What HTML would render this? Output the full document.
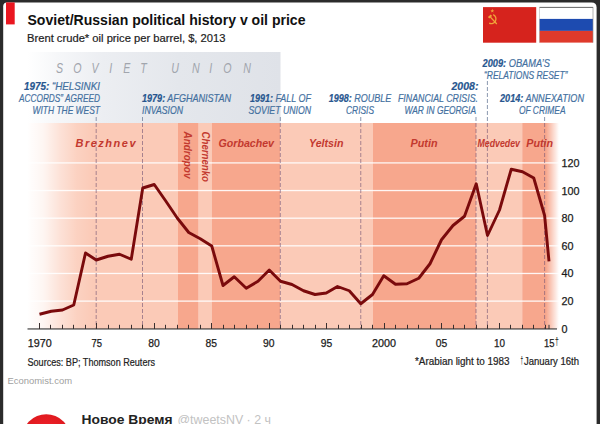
<!DOCTYPE html>
<html><head><meta charset="utf-8"><title>chart</title>
<style>
html,body{margin:0;padding:0;background:#2b2b2b;}
body{width:600px;height:424px;overflow:hidden;font-family:"Liberation Sans",sans-serif;}
svg{display:block}
text{font-family:"Liberation Sans",sans-serif;}
.ann{font-size:10.5px;font-style:italic;fill:#43709f;stroke:#43709f;stroke-width:0.2px;}
.ann .b{font-weight:bold;fill:#27568f;stroke:#27568f;}
.ldr{font-size:11px;font-style:italic;font-weight:bold;fill:#c3392f;}
.ax{font-size:11px;fill:#1a1a1a;stroke:#1a1a1a;stroke-width:0.25px;}
.src{font-size:10px;fill:#222;stroke:#222;stroke-width:0.2px;}
</style></head><body>
<svg width="600" height="424" viewBox="0 0 600 424">
<defs>
<linearGradient id="fl" x1="0" x2="1" y1="0" y2="0"><stop offset="0" stop-color="#fff" stop-opacity="1"/><stop offset="0.25" stop-color="#fff" stop-opacity="0.82"/><stop offset="0.5" stop-color="#fff" stop-opacity="0.45"/><stop offset="0.75" stop-color="#fff" stop-opacity="0.15"/><stop offset="1" stop-color="#fff" stop-opacity="0"/></linearGradient>
<linearGradient id="fr" x1="0" x2="1" y1="0" y2="0"><stop offset="0" stop-color="#fff" stop-opacity="0"/><stop offset="1" stop-color="#fff" stop-opacity="1"/></linearGradient>
<linearGradient id="gg" x1="0" x2="1" y1="0" y2="0"><stop offset="0" stop-color="#ffffff"/><stop offset="0.12" stop-color="#f6f7f9"/><stop offset="0.3" stop-color="#eceef2"/><stop offset="0.6" stop-color="#e4e7ec"/><stop offset="1" stop-color="#dfe2e8"/></linearGradient>
<radialGradient id="av" cx="0.5" cy="0.4" r="0.6"><stop offset="0" stop-color="#f2222b"/><stop offset="0.7" stop-color="#e01a20"/><stop offset="1" stop-color="#b80f15"/></radialGradient>
</defs>
<rect x="0" y="0" width="600" height="424" fill="#2b2b2b"/>
<path d="M3.2,424 V6.4 Q3.2,2.4 7,2.4 H591.5 Q596.6,2.4 596.6,7.4 V424 Z" fill="#fff"/>
<rect x="6" y="2.4" width="8.7" height="22" fill="#ea1620"/>

<text x="27.5" y="24.5" font-size="15" font-weight="bold" fill="#111" textLength="278" lengthAdjust="spacingAndGlyphs">Soviet/Russian political history v oil price</text>
<text x="27" y="42" font-size="11" fill="#222" stroke="#222" stroke-width="0.2" textLength="198.5" lengthAdjust="spacingAndGlyphs">Brent crude* oil price per barrel, $, 2013</text>
<rect x="27" y="52" width="253.5" height="71" fill="url(#gg)"/>
<text transform="translate(56,72.5) scale(0.76,1)" font-size="14" font-style="italic" fill="#a1a5ad">S</text>
<text transform="translate(73.3,72.5) scale(0.76,1)" font-size="14" font-style="italic" fill="#a1a5ad">O</text>
<text transform="translate(91.5,72.5) scale(0.76,1)" font-size="14" font-style="italic" fill="#a1a5ad">V</text>
<text transform="translate(109.3,72.5) scale(0.76,1)" font-size="14" font-style="italic" fill="#a1a5ad">I</text>
<text transform="translate(123.3,72.5) scale(0.76,1)" font-size="14" font-style="italic" fill="#a1a5ad">E</text>
<text transform="translate(140.3,72.5) scale(0.76,1)" font-size="14" font-style="italic" fill="#a1a5ad">T</text>
<text transform="translate(171.3,72.5) scale(0.76,1)" font-size="14" font-style="italic" fill="#a1a5ad">U</text>
<text transform="translate(192,72.5) scale(0.76,1)" font-size="14" font-style="italic" fill="#a1a5ad">N</text>
<text transform="translate(209.3,72.5) scale(0.76,1)" font-size="14" font-style="italic" fill="#a1a5ad">I</text>
<text transform="translate(223.3,72.5) scale(0.76,1)" font-size="14" font-style="italic" fill="#a1a5ad">O</text>
<text transform="translate(243.3,72.5) scale(0.76,1)" font-size="14" font-style="italic" fill="#a1a5ad">N</text>
<rect x="27" y="123" width="151" height="206" fill="#fbcab7"/>
<rect x="178" y="123" width="20.69999999999999" height="206" fill="#f7a78d"/>
<rect x="198.7" y="123" width="12.900000000000006" height="206" fill="#fbcab7"/>
<rect x="211.6" y="123" width="68.9" height="206" fill="#f7a78d"/>
<rect x="280.5" y="123" width="92.5" height="206" fill="#fbcab7"/>
<rect x="373" y="123" width="103" height="206" fill="#f7a78d"/>
<rect x="476" y="123" width="46.200000000000045" height="206" fill="#fbcab7"/>
<rect x="522.2" y="123" width="37.799999999999955" height="206" fill="#f7a78d"/>
<rect x="27" y="300.46" width="533" height="1.3" fill="#fff" opacity="0.9"/>
<rect x="27" y="272.82" width="533" height="1.3" fill="#fff" opacity="0.9"/>
<rect x="27" y="245.18" width="533" height="1.3" fill="#fff" opacity="0.9"/>
<rect x="27" y="217.54" width="533" height="1.3" fill="#fff" opacity="0.9"/>
<rect x="27" y="189.90" width="533" height="1.3" fill="#fff" opacity="0.9"/>
<rect x="27" y="162.26" width="533" height="1.3" fill="#fff" opacity="0.9"/>
<rect x="27" y="123" width="66" height="206" fill="url(#fl)"/>
<rect x="546" y="123" width="13" height="206" fill="url(#fr)"/>
<rect x="559" y="123" width="3" height="206" fill="#fff"/>
<line x1="96.2" y1="117" x2="96.2" y2="123" stroke="#7f8fa8" stroke-width="1" stroke-dasharray="4,2" opacity="0.9"/>
<line x1="96.2" y1="123" x2="96.2" y2="329" stroke="#7a5a78" stroke-width="0.9" stroke-dasharray="4,2" opacity="0.72"/>
<line x1="142.5" y1="117" x2="142.5" y2="123" stroke="#7f8fa8" stroke-width="1" stroke-dasharray="4,2" opacity="0.9"/>
<line x1="142.5" y1="123" x2="142.5" y2="329" stroke="#7a5a78" stroke-width="0.9" stroke-dasharray="4,2" opacity="0.72"/>
<line x1="280.3" y1="117" x2="280.3" y2="123" stroke="#7f8fa8" stroke-width="1" stroke-dasharray="4,2" opacity="0.9"/>
<line x1="280.3" y1="123" x2="280.3" y2="329" stroke="#7a5a78" stroke-width="0.9" stroke-dasharray="4,2" opacity="0.72"/>
<line x1="360.75" y1="117" x2="360.75" y2="123" stroke="#7f8fa8" stroke-width="1" stroke-dasharray="4,2" opacity="0.9"/>
<line x1="360.75" y1="123" x2="360.75" y2="329" stroke="#7a5a78" stroke-width="0.9" stroke-dasharray="4,2" opacity="0.72"/>
<line x1="476" y1="117" x2="476" y2="123" stroke="#7f8fa8" stroke-width="1" stroke-dasharray="4,2" opacity="0.9"/>
<line x1="476" y1="123" x2="476" y2="329" stroke="#7a5a78" stroke-width="0.9" stroke-dasharray="4,2" opacity="0.72"/>
<line x1="487.4" y1="81" x2="487.4" y2="123" stroke="#7f8fa8" stroke-width="1" stroke-dasharray="4,2" opacity="0.9"/>
<line x1="487.4" y1="123" x2="487.4" y2="329" stroke="#7a5a78" stroke-width="0.9" stroke-dasharray="4,2" opacity="0.72"/>
<line x1="544.6" y1="117" x2="544.6" y2="123" stroke="#7f8fa8" stroke-width="1" stroke-dasharray="4,2" opacity="0.9"/>
<line x1="544.6" y1="123" x2="544.6" y2="329" stroke="#7a5a78" stroke-width="0.9" stroke-dasharray="4,2" opacity="0.72"/>
<rect x="27.5" y="328.4" width="529.5" height="1.1" fill="#333"/>
<rect x="39" y="323" width="1" height="6" fill="#3a3030"/>
<rect x="50" y="324.8" width="1" height="4.2" fill="#3a3030"/>
<rect x="62" y="324.8" width="1" height="4.2" fill="#3a3030"/>
<rect x="73" y="324.8" width="1" height="4.2" fill="#3a3030"/>
<rect x="85" y="324.8" width="1" height="4.2" fill="#3a3030"/>
<rect x="96" y="323" width="1" height="6" fill="#3a3030"/>
<rect x="108" y="324.8" width="1" height="4.2" fill="#3a3030"/>
<rect x="119" y="324.8" width="1" height="4.2" fill="#3a3030"/>
<rect x="131" y="324.8" width="1" height="4.2" fill="#3a3030"/>
<rect x="142" y="324.8" width="1" height="4.2" fill="#3a3030"/>
<rect x="154" y="323" width="1" height="6" fill="#3a3030"/>
<rect x="165" y="324.8" width="1" height="4.2" fill="#3a3030"/>
<rect x="177" y="324.8" width="1" height="4.2" fill="#3a3030"/>
<rect x="188" y="324.8" width="1" height="4.2" fill="#3a3030"/>
<rect x="200" y="324.8" width="1" height="4.2" fill="#3a3030"/>
<rect x="211" y="323" width="1" height="6" fill="#3a3030"/>
<rect x="223" y="324.8" width="1" height="4.2" fill="#3a3030"/>
<rect x="234" y="324.8" width="1" height="4.2" fill="#3a3030"/>
<rect x="246" y="324.8" width="1" height="4.2" fill="#3a3030"/>
<rect x="257" y="324.8" width="1" height="4.2" fill="#3a3030"/>
<rect x="269" y="323" width="1" height="6" fill="#3a3030"/>
<rect x="280" y="324.8" width="1" height="4.2" fill="#3a3030"/>
<rect x="292" y="324.8" width="1" height="4.2" fill="#3a3030"/>
<rect x="303" y="324.8" width="1" height="4.2" fill="#3a3030"/>
<rect x="315" y="324.8" width="1" height="4.2" fill="#3a3030"/>
<rect x="326" y="323" width="1" height="6" fill="#3a3030"/>
<rect x="338" y="324.8" width="1" height="4.2" fill="#3a3030"/>
<rect x="349" y="324.8" width="1" height="4.2" fill="#3a3030"/>
<rect x="361" y="324.8" width="1" height="4.2" fill="#3a3030"/>
<rect x="372" y="324.8" width="1" height="4.2" fill="#3a3030"/>
<rect x="384" y="323" width="1" height="6" fill="#3a3030"/>
<rect x="395" y="324.8" width="1" height="4.2" fill="#3a3030"/>
<rect x="407" y="324.8" width="1" height="4.2" fill="#3a3030"/>
<rect x="418" y="324.8" width="1" height="4.2" fill="#3a3030"/>
<rect x="430" y="324.8" width="1" height="4.2" fill="#3a3030"/>
<rect x="441" y="323" width="1" height="6" fill="#3a3030"/>
<rect x="453" y="324.8" width="1" height="4.2" fill="#3a3030"/>
<rect x="464" y="324.8" width="1" height="4.2" fill="#3a3030"/>
<rect x="476" y="324.8" width="1" height="4.2" fill="#3a3030"/>
<rect x="487" y="324.8" width="1" height="4.2" fill="#3a3030"/>
<rect x="499" y="323" width="1" height="6" fill="#3a3030"/>
<rect x="510" y="324.8" width="1" height="4.2" fill="#3a3030"/>
<rect x="522" y="324.8" width="1" height="4.2" fill="#3a3030"/>
<rect x="533" y="324.8" width="1" height="4.2" fill="#3a3030"/>
<rect x="545" y="324.8" width="1" height="4.2" fill="#3a3030"/>
<rect x="548.5" y="324.8" width="1" height="4.2" fill="#333"/>
<polyline points="39.5,314.25 51.25,311.25 62.5,310 73.75,305 85.5,253 96.25,260 108,256.25 119.5,254.25 131.25,259.25 142.75,188 154.25,184.5 165.75,201 177.25,218 188.75,232.5 200.25,238.75 211.75,246 223,285.5 234.25,276.75 246.25,288.25 258,281.25 269.25,270 280.5,281.25 292,284.5 303.5,290.75 315,294.5 326.25,293 337.5,286.5 349.25,290.75 360.75,303.75 372.5,294.5 383.75,275.75 395.5,284.25 407,283.75 418.75,278.25 430,263.75 441.5,239.75 453,225.5 464.5,216.25 476.25,183.75 487.5,235.5 499.5,210 511.25,169.25 522.5,171.75 533.75,178 544.6,215.5 549,261.4" fill="none" stroke="#7a0a0c" stroke-width="2.9" stroke-linejoin="round" stroke-linecap="butt"/>
<text class="ax" x="27.700000000000003" y="347" textLength="24" lengthAdjust="spacingAndGlyphs">1970</text>
<text class="ax" x="91.5" y="347" textLength="10.5" lengthAdjust="spacingAndGlyphs">75</text>
<text class="ax" x="148.25" y="347" textLength="11.5" lengthAdjust="spacingAndGlyphs">80</text>
<text class="ax" x="205.55" y="347" textLength="11.5" lengthAdjust="spacingAndGlyphs">85</text>
<text class="ax" x="263.05" y="347" textLength="11.5" lengthAdjust="spacingAndGlyphs">90</text>
<text class="ax" x="320.75" y="347" textLength="11.5" lengthAdjust="spacingAndGlyphs">95</text>
<text class="ax" x="372.0" y="347" textLength="24" lengthAdjust="spacingAndGlyphs">2000</text>
<text class="ax" x="435.75" y="347" textLength="11.5" lengthAdjust="spacingAndGlyphs">05</text>
<text class="ax" x="494.0" y="347" textLength="11" lengthAdjust="spacingAndGlyphs">10</text>
<text class="ax" x="544" y="347" textLength="10.5" lengthAdjust="spacingAndGlyphs">15</text>
<text x="554.8" y="345.3" font-size="11" fill="#1a1a1a" textLength="4.2" lengthAdjust="spacingAndGlyphs">†</text>
<text class="ax" x="561.5" y="332.70" textLength="6" lengthAdjust="spacingAndGlyphs">0</text>
<text class="ax" x="561.5" y="305.06" textLength="12" lengthAdjust="spacingAndGlyphs">20</text>
<text class="ax" x="561.5" y="277.42" textLength="12" lengthAdjust="spacingAndGlyphs">40</text>
<text class="ax" x="561.5" y="249.78" textLength="12" lengthAdjust="spacingAndGlyphs">60</text>
<text class="ax" x="561.5" y="222.14" textLength="12" lengthAdjust="spacingAndGlyphs">80</text>
<text class="ax" x="561.5" y="194.50" textLength="18" lengthAdjust="spacingAndGlyphs">100</text>
<text class="ax" x="561.5" y="166.86" textLength="18" lengthAdjust="spacingAndGlyphs">120</text>
<text class="src" x="27.5" y="365.5" textLength="127.5" lengthAdjust="spacingAndGlyphs">Sources: BP; Thomson Reuters</text>
<text class="src" x="415" y="364.8" textLength="94.5" lengthAdjust="spacingAndGlyphs">*Arabian light to 1983</text>
<text x="520.6" y="363.6" font-size="10" font-weight="bold" fill="#222" textLength="2.6" lengthAdjust="spacingAndGlyphs">†</text>
<text class="src" x="524" y="364.8" textLength="55" lengthAdjust="spacingAndGlyphs">January 16th</text>
<text x="7.5" y="384" font-size="9.5" fill="#a0a0a0" textLength="64.5" lengthAdjust="spacingAndGlyphs">Economist.com</text>
<text class="ldr" x="75.5" y="147" textLength="60" lengthAdjust="spacing">Brezhnev</text>
<text class="ldr" x="218.5" y="147" textLength="55.5" lengthAdjust="spacingAndGlyphs" >Gorbachev</text>
<text class="ldr" x="309" y="147" textLength="34.5" lengthAdjust="spacingAndGlyphs" >Yeltsin</text>
<text class="ldr" x="410.5" y="147" textLength="27" lengthAdjust="spacingAndGlyphs" >Putin</text>
<text class="ldr" x="477.5" y="147" textLength="42.5" lengthAdjust="spacingAndGlyphs" >Medvedev</text>
<text class="ldr" x="526.3" y="147" textLength="26.8" lengthAdjust="spacingAndGlyphs" >Putin</text>
<text class="ldr" transform="translate(183.5,131.5) rotate(90)" x="0" y="0" textLength="47" lengthAdjust="spacingAndGlyphs">Andropov</text>
<text class="ldr" transform="translate(201.5,131.5) rotate(90)" x="0" y="0" textLength="50.5" lengthAdjust="spacingAndGlyphs">Chernenko</text>
<text class="ann" x="24" y="90" textLength="76" lengthAdjust="spacingAndGlyphs"><tspan class="b">1975:</tspan> “HELSINKI</text>
<text class="ann" x="19" y="102" textLength="81" lengthAdjust="spacingAndGlyphs">ACCORDS” AGREED</text>
<text class="ann" x="32.5" y="113.75" textLength="67.5" lengthAdjust="spacingAndGlyphs">WITH THE WEST</text>
<text class="ann" x="142" y="102" textLength="89" lengthAdjust="spacingAndGlyphs"><tspan class="b">1979:</tspan> AFGHANISTAN</text>
<text class="ann" x="142" y="113.75" textLength="41" lengthAdjust="spacingAndGlyphs">INVASION</text>
<text class="ann" x="250" y="102" textLength="61" lengthAdjust="spacingAndGlyphs"><tspan class="b">1991:</tspan> FALL OF</text>
<text class="ann" x="248.5" y="113.75" textLength="62.5" lengthAdjust="spacingAndGlyphs">SOVIET UNION</text>
<text class="ann" x="328.75" y="102" textLength="62.5" lengthAdjust="spacingAndGlyphs"><tspan class="b">1998:</tspan> ROUBLE</text>
<text class="ann" x="346" y="113.75" textLength="28" lengthAdjust="spacingAndGlyphs">CRISIS</text>
<text class="ann" x="451.5" y="90" textLength="27" lengthAdjust="spacingAndGlyphs"><tspan class="b">2008:</tspan></text>
<text class="ann" x="398" y="102" textLength="80" lengthAdjust="spacingAndGlyphs">FINANCIAL CRISIS.</text>
<text class="ann" x="404.5" y="113.75" textLength="71.5" lengthAdjust="spacingAndGlyphs">WAR IN GEORGIA</text>
<text class="ann" x="482.5" y="66.6" textLength="67.5" lengthAdjust="spacingAndGlyphs"><tspan class="b">2009:</tspan> OBAMA’S</text>
<text class="ann" x="484" y="79" textLength="83.5" lengthAdjust="spacingAndGlyphs">“RELATIONS RESET”</text>
<text class="ann" x="500" y="102" textLength="84" lengthAdjust="spacingAndGlyphs"><tspan class="b">2014:</tspan> ANNEXATION</text>
<text class="ann" x="519" y="113.75" textLength="46.5" lengthAdjust="spacingAndGlyphs">OF CRIMEA</text>
<rect x="483" y="7.1" width="53.2" height="35.6" fill="#d6231d"/>
<g fill="none" stroke="#f0a43a" stroke-width="1.3"><path d="M493.2,14.6 A4.6,4.6 0 1 1 489.2,23.2"/><path d="M490,16.6 L496.8,24" stroke-width="1.3"/><path d="M488.6,17.8 L491.4,15.2" stroke-width="2"/></g><polygon points="492.3,8.8 492.8,10.2 494.3,10.2 493.1,11.1 493.5,12.6 492.3,11.7 491.1,12.6 491.5,11.1 490.3,10.2 491.8,10.2" fill="#f0a43a"/>
<rect x="539.4" y="7.3" width="53.6" height="35.3" fill="#fff"/>
<rect x="539.4" y="18.9" width="53.6" height="12" fill="#1d4bb0"/>
<rect x="539.4" y="30.9" width="53.6" height="11.7" fill="#df3a2b"/>
<rect x="539.4" y="6.9" width="53.6" height="0.9" fill="#555"/>
<rect x="592.6" y="7" width="0.8" height="35.6" fill="#8a8a8a" opacity="0.8"/>
<rect x="539" y="7" width="0.7" height="35.6" fill="#aaa" opacity="0.7"/>
<circle cx="46.25" cy="438.25" r="24" fill="url(#av)"/>
<text x="81.5" y="423.8" font-size="13.5" font-weight="bold" fill="#222" textLength="91" lengthAdjust="spacingAndGlyphs">Новое Время</text>
<text x="177.5" y="423.8" font-size="13" fill="#c2c2c2" textLength="93.5" lengthAdjust="spacingAndGlyphs">@tweetsNV · 2 ч</text>
</svg></body></html>
